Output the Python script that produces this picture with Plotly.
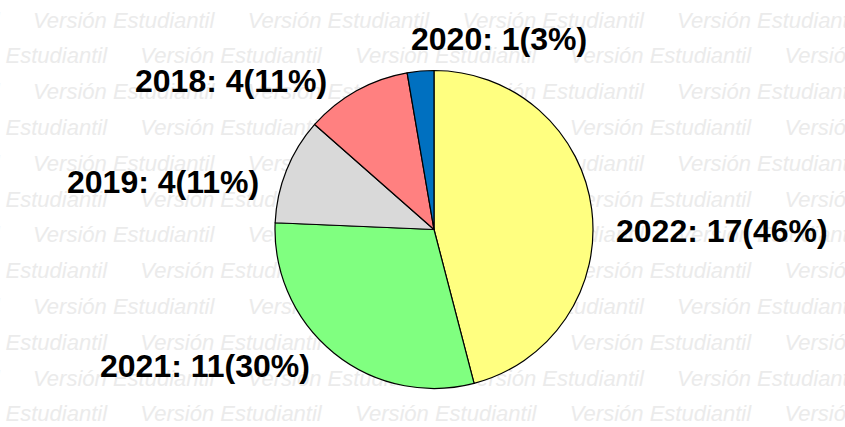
import plotly.graph_objects as go

# ---- data (pie order, clockwise from 12 o'clock) ----
years = ["2022", "2021", "2019", "2018", "2020"]
counts = [17, 11, 4, 4, 1]
colors = ["#FFFF80", "#80FF80", "#D9D9D9", "#FF8080", "#0070C0"]

W, H = 845, 427
total = sum(counts)
labels_txt = [f"{y}: {c}({round(100 * c / total)}%)" for y, c in zip(years, counts)]

# label centres (pixels)
label_pos = {
    "2022": (722, 231),
    "2021": (205, 366),
    "2019": (163, 182),
    "2018": (231, 81),
    "2020": (499, 39),
}

fig = go.Figure()

# ---- watermark (drawn under the pie on hidden cartesian axes) ----
wm_text = "Versión Estudiantil"
period = 214.7
row_gap = 35.8
wx, wy, wt = [], [], []
for r in range(12):
    y = 22 + r * row_gap
    x0 = 33 if r % 2 == 0 else 33 - period / 2
    for k in range(-1, 5):
        x = x0 + k * period
        if x < W:
            wx.append(x)
            wy.append(y)
            wt.append(wm_text)
fig.add_trace(go.Scatter(
    x=wx, y=wy, text=wt, mode="text", textposition="middle right",
    textfont=dict(family="Liberation Sans, Arial, sans-serif", size=22,
                  color="#EBEBEB", style="italic"),
    hoverinfo="skip", showlegend=False, cliponaxis=True,
))

# ---- pie ----
cx, cy, rad = 434, 229.5, 159
fig.add_trace(go.Pie(
    labels=years, values=counts, sort=False, direction="clockwise",
    rotation=0, textinfo="none", hoverinfo="label+value+percent",
    marker=dict(colors=colors, line=dict(color="black", width=1.2)),
    domain=dict(x=[(cx - rad) / W, (cx + rad) / W],
                y=[1 - (cy + rad) / H, 1 - (cy - rad) / H]),
    showlegend=False,
))

annotations = []
for y, t in zip(years, labels_txt):
    px, py = label_pos[y]
    annotations.append(dict(
        x=px / W, y=1 - py / H, xref="paper", yref="paper",
        text=t, showarrow=False, xanchor="center", yanchor="middle",
        font=dict(family="Liberation Sans, Arial, sans-serif", size=32,
                  color="black", weight="bold"),
    ))

fig.update_layout(
    width=W, height=H,
    margin=dict(l=0, r=0, t=0, b=0),
    paper_bgcolor="white", plot_bgcolor="white",
    xaxis=dict(range=[0, W], visible=False, domain=[0, 1], fixedrange=True),
    yaxis=dict(range=[H, 0], visible=False, domain=[0, 1], fixedrange=True),
    annotations=annotations,
    showlegend=False,
)

fig.write_html(
    "out.html",
    config={"displayModeBar": False},
    post_script="document.body.style.margin='0';document.body.style.overflow='hidden';",
)
